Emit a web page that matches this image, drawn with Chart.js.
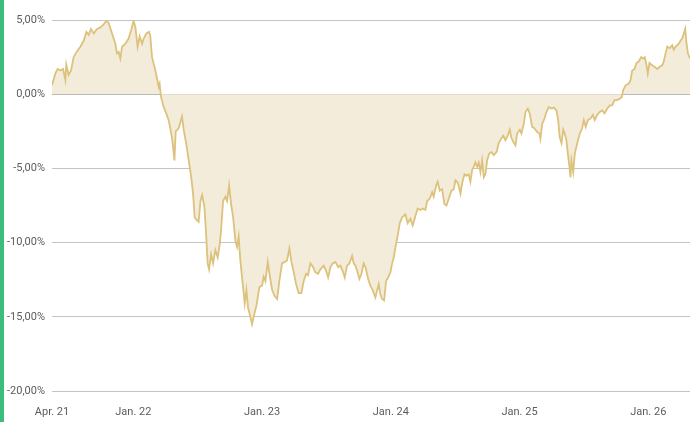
<!DOCTYPE html>
<html>
<head>
<meta charset="utf-8">
<script src="https://cdn.jsdelivr.net/npm/chart.js@4"></script>
<style>
  html, body { margin: 0; padding: 0; background: #fff; }
  #wrap { position: relative; width: 690px; height: 422px; }
  #bar { position: absolute; left: 0; top: 0; width: 4px; height: 422px; background: #3dbd7d; }
  canvas { position: absolute; left: 0; top: 0; }
</style>
</head>
<body>
<div id="wrap">
  <canvas id="perf" width="690" height="422"></canvas>
  <div id="bar"></div>
</div>
<script>
// time as decimal years, performance in %
var years = [
  2021.368, 2021.394, 2021.412, 2021.433, 2021.454, 2021.472, 2021.479, 2021.497, 2021.516, 2021.536,
  2021.563, 2021.588, 2021.614, 2021.635, 2021.653, 2021.671, 2021.692, 2021.718, 2021.744, 2021.769,
  2021.790, 2021.808, 2021.834, 2021.860, 2021.873, 2021.886, 2021.899, 2021.912, 2021.938, 2021.963,
  2021.982, 2022.002, 2022.016, 2022.033, 2022.049, 2022.068, 2022.080, 2022.101, 2022.122, 2022.132,
  2022.145, 2022.171, 2022.197, 2022.204, 2022.215, 2022.235, 2022.256, 2022.274, 2022.287, 2022.303,
  2022.319, 2022.329, 2022.352, 2022.378, 2022.391, 2022.412, 2022.430, 2022.448, 2022.464, 2022.476,
  2022.495, 2022.507, 2022.521, 2022.534, 2022.552, 2022.565, 2022.577, 2022.588, 2022.604, 2022.619,
  2022.637, 2022.655, 2022.671, 2022.681, 2022.697, 2022.715, 2022.728, 2022.744, 2022.759, 2022.775,
  2022.793, 2022.806, 2022.818, 2022.831, 2022.852, 2022.865, 2022.878, 2022.891, 2022.909, 2022.922,
  2022.940, 2022.956, 2022.979, 2023.000, 2023.012, 2023.026, 2023.044, 2023.057, 2023.078, 2023.098,
  2023.117, 2023.134, 2023.155, 2023.176, 2023.194, 2023.212, 2023.228, 2023.246, 2023.264, 2023.284,
  2023.305, 2023.323, 2023.342, 2023.357, 2023.375, 2023.393, 2023.414, 2023.435, 2023.453, 2023.479,
  2023.497, 2023.513, 2023.531, 2023.549, 2023.570, 2023.591, 2023.608, 2023.626, 2023.642, 2023.660,
  2023.678, 2023.699, 2023.712, 2023.725, 2023.738, 2023.756, 2023.772, 2023.789, 2023.803, 2023.824,
  2023.841, 2023.859, 2023.880, 2023.894, 2023.906, 2023.919, 2023.932, 2023.948, 2023.963, 2023.979,
  2023.997, 2024.010, 2024.023, 2024.036, 2024.054, 2024.069, 2024.088, 2024.113, 2024.131, 2024.152,
  2024.170, 2024.191, 2024.209, 2024.230, 2024.248, 2024.269, 2024.282, 2024.302, 2024.321, 2024.333,
  2024.352, 2024.364, 2024.380, 2024.399, 2024.416, 2024.432, 2024.450, 2024.471, 2024.489, 2024.502,
  2024.515, 2024.527, 2024.541, 2024.554, 2024.572, 2024.587, 2024.605, 2024.618, 2024.632, 2024.644,
  2024.657, 2024.671, 2024.683, 2024.696, 2024.709, 2024.722, 2024.735, 2024.748, 2024.764, 2024.782,
  2024.800, 2024.821, 2024.838, 2024.857, 2024.873, 2024.890, 2024.908, 2024.924, 2024.935, 2024.950,
  2024.968, 2024.981, 2025.002, 2025.015, 2025.033, 2025.046, 2025.064, 2025.079, 2025.098, 2025.116,
  2025.137, 2025.155, 2025.162, 2025.176, 2025.193, 2025.209, 2025.227, 2025.246, 2025.266, 2025.287,
  2025.300, 2025.312, 2025.326, 2025.339, 2025.351, 2025.364, 2025.375, 2025.385, 2025.396, 2025.403,
  2025.417, 2025.429, 2025.448, 2025.468, 2025.486, 2025.499, 2025.514, 2025.530, 2025.551, 2025.569,
  2025.584, 2025.603, 2025.623, 2025.642, 2025.660, 2025.681, 2025.701, 2025.720, 2025.737, 2025.758,
  2025.779, 2025.794, 2025.805, 2025.823, 2025.849, 2025.862, 2025.875, 2025.893, 2025.908, 2025.926,
  2025.945, 2025.960, 2025.973, 2025.986, 2025.996, 2026.009, 2026.030, 2026.048, 2026.069, 2026.089,
  2026.108, 2026.120, 2026.134, 2026.147, 2026.167, 2026.186, 2026.198, 2026.211, 2026.224, 2026.237,
  2026.250, 2026.263, 2026.276, 2026.287, 2026.297, 2026.308, 2026.324
];
var perf = [
  0.6, 1.4, 1.7, 1.6, 1.7, 0.95, 2.0, 1.3, 1.6, 2.5,
  2.9, 3.2, 3.6, 4.2, 4.0, 4.4, 4.1, 4.4, 4.5, 4.7,
  4.95, 4.8, 4.1, 3.4, 2.75, 2.85, 2.4, 3.2, 3.4, 3.75,
  4.3, 4.95, 4.5, 3.2, 3.9, 3.4, 3.75, 4.1, 4.2, 3.9,
  2.5, 1.6, 0.5, 0.7, -0.2, -0.86, -1.3, -1.75, -2.3, -3.1,
  -4.46, -2.5, -2.3, -1.5, -2.4, -3.4, -4.46, -5.5, -6.7, -8.3,
  -8.5, -8.6, -7.2, -6.8, -7.6, -9.4, -11.4, -11.8, -10.8, -11.4,
  -10.5, -11.0, -10.1, -9.2, -7.2, -6.9, -7.2, -6.15, -7.4, -8.3,
  -9.9, -10.3, -9.6, -11.2, -13.0, -14.1, -13.2, -14.4, -15.0, -15.5,
  -14.8, -14.25, -13.0, -12.9, -12.3, -12.6, -11.3, -12.1, -13.2, -13.6,
  -13.8, -12.6, -11.4, -11.3, -11.2, -10.4, -11.3, -12.0, -12.8, -13.4,
  -13.4, -12.6, -12.1, -12.2, -11.4, -11.6, -12.0, -12.1, -11.8, -11.55,
  -11.9, -12.35, -11.65, -11.4, -11.3, -11.65, -11.55, -11.9, -12.35, -11.55,
  -11.4, -10.9, -11.4, -11.55, -11.9, -12.45, -12.1, -11.4, -11.65, -12.45,
  -12.9, -13.2, -13.7, -13.2, -12.8, -13.5, -13.8, -13.9, -12.6, -12.35,
  -12.0, -11.4, -11.0, -10.3, -9.5, -8.7, -8.3, -8.1, -8.7, -8.4,
  -8.85, -8.2, -7.7, -7.8, -7.7, -7.8, -7.2, -7.05, -6.6, -6.9,
  -6.15, -5.9, -6.5, -6.4, -7.4, -7.5, -7.05, -6.5, -6.4, -5.8,
  -5.9, -6.15, -6.7, -6.0, -5.4, -5.5, -5.4, -5.9, -5.1, -4.9,
  -4.6, -4.9, -4.6, -5.25, -4.46, -5.6, -5.4, -4.46, -4.0, -3.9,
  -4.1, -3.9, -3.3, -3.0, -2.8, -3.1, -2.8, -2.4, -2.9, -3.2,
  -3.45, -2.65, -2.4, -2.65, -2.0, -1.2, -0.97, -1.3, -2.2, -2.3,
  -2.55, -2.65, -3.0, -2.0, -1.65, -1.2, -0.86, -0.97, -0.9, -1.1,
  -1.75, -2.9, -3.3, -2.4, -2.65, -3.1, -4.0, -4.7, -5.6, -4.46,
  -5.25, -4.0, -3.3, -2.65, -2.3, -1.75, -2.2, -1.75, -1.65, -1.4,
  -1.75, -1.4, -1.2, -1.1, -1.3, -0.97, -0.75, -0.75, -0.4, -0.4,
  -0.3, -0.2, 0.27, 0.6, 0.72, 0.95, 1.6, 1.7, 2.1, 2.2,
  2.5, 2.4, 2.5, 1.95, 1.4, 2.1, 1.95, 1.85, 1.7, 1.85,
  1.95, 2.2, 2.75, 3.2, 3.1, 3.3, 3.0, 3.2, 3.3, 3.4,
  3.6, 3.75, 4.1, 4.4, 3.4, 2.75, 2.4
];

var xTickValues = [2021.368, 2022, 2023, 2024, 2025, 2026];
var xTickLabels = ["Apr. 21", "Jan. 22", "Jan. 23", "Jan. 24", "Jan. 25", "Jan. 26"];
var yTicks = [5, 0, -5, -10, -15, -20];

var points = [];
for (var i = 0; i < years.length; i++) {
  points.push({x: years[i], y: perf[i]});
}

var labelFont = { family: "Roboto, sans-serif", size: 11 };

var ctx = document.getElementById("perf");

new Chart(ctx, {
  type: 'line',
  data: {
    datasets: [{
      data: points,
      borderColor: '#dcc27c',
      backgroundColor: '#f3ecda',
      fill: 'origin',
      borderWidth: 1.8,
      pointRadius: 0,
      tension: 0
    }]
  },
  options: {
    responsive: false,
    animation: false,
    layout: { padding: { top: 20, right: 0, left: 0, bottom: 0 } },
    plugins: { legend: { display: false }, tooltip: { enabled: false } },
    scales: {
      x: {
        type: 'linear',
        min: years[0],
        max: years[years.length - 1],
        grid: { display: false, drawTicks: false },
        border: { display: false },
        afterBuildTicks: function(axis) {
          axis.ticks = xTickValues.map(function(v) { return {value: v}; });
        },
        afterFit: function(axis) { axis.height = 31; },
        ticks: {
          autoSkip: false,
          maxRotation: 0,
          padding: 15,
          color: '#5c5c5c',
          font: labelFont,
          callback: function(value, index) { return xTickLabels[index]; }
        }
      },
      y: {
        min: -20,
        max: 5,
        afterBuildTicks: function(axis) {
          axis.ticks = yTicks.map(function(v) { return {value: v}; });
        },
        afterFit: function(axis) { axis.width = 52; },
        grid: {
          drawTicks: false,
          color: function(c) { return c.tick && c.tick.value === 0 ? '#a9a9a9' : '#c4c4c4'; },
          lineWidth: 1
        },
        border: { display: false },
        ticks: {
          padding: 7,
          color: '#5c5c5c',
          font: labelFont,
          callback: function(value) { return value.toFixed(2).replace('.', ',') + '%'; }
        }
      }
    }
  }
});
</script>
</body>
</html>
